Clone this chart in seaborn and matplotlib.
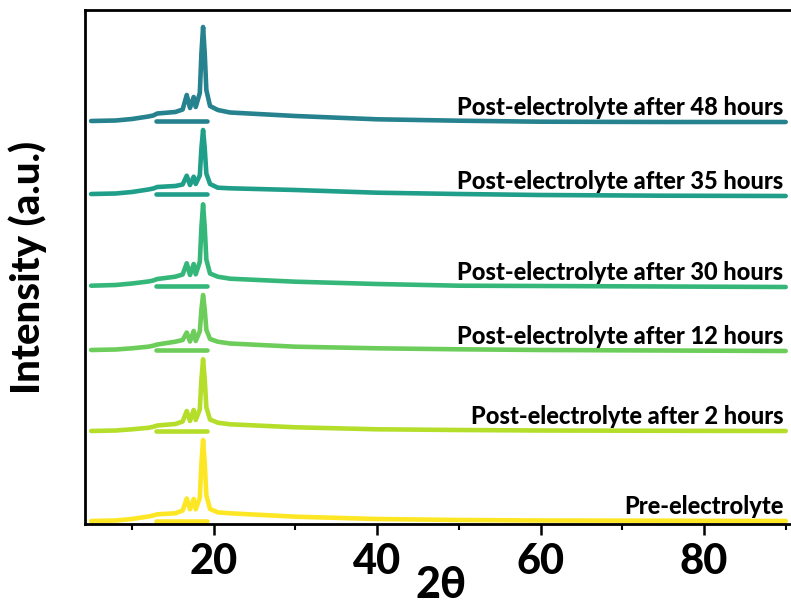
import matplotlib
matplotlib.use("Agg")
import matplotlib.pyplot as plt
import seaborn as sns
import pandas as pd
from matplotlib.ticker import MultipleLocator

# 2-theta grid shared by all patterns
two_theta = [5, 8, 10, 12, 12.6, 13.1, 15.3, 16.2, 16.7, 17.1, 17.55, 17.8, 18.3,
             18.5, 18.7, 18.9, 19.1, 19.55, 20.5, 22, 30, 40, 50, 60, 75, 90]

# intensities (a.u., already offset for stacking)
pre = [3, 3.5, 5, 7.5, 8.5, 9.7, 10.7, 13.5, 25.5, 14.7, 25, 14.7, 26.2,
       61.2, 84, 61.2, 28.7, 15, 11.7, 10.7, 7.3, 5, 4, 3.5, 3.3, 3]
h2 = [93, 93.5, 94.7, 96.2, 97.2, 98.5, 100, 102.5, 113, 103, 114, 104, 114.6,
      145, 164.7, 145, 116.7, 104.5, 101.3, 99.7, 96.7, 94.7, 94, 93.5, 93.2, 93]
h12 = [174, 174.5, 175.7, 177.3, 178.3, 179.5, 182.3, 184, 191.5, 182.5, 193, 183, 192.7,
       214.7, 229, 214.7, 194.2, 185, 182.3, 180.5, 177.3, 175.7, 174.7, 174, 173.5, 173]
h30 = [238.3, 239, 240.5, 242.5, 243.5, 245, 247.3, 249.5, 260.7, 249, 260, 249.7, 262,
       297, 319.7, 297, 264.4, 250.5, 247.3, 245.3, 242.3, 240, 238.3, 238, 237.5, 237]
h35 = [330, 330.5, 332, 334.5, 335.5, 337, 338, 339.5, 348.3, 339, 347.3, 340, 348.6,
       376, 394, 376, 350.5, 340, 336.3, 335.7, 334, 331.3, 330, 329, 328.3, 328]
h48 = [403, 403.5, 405, 407.5, 408.5, 410.5, 412, 414.5, 429, 416, 427, 417, 431,
       471, 497, 471, 434, 418, 414, 411.5, 408, 404.7, 403.3, 402.3, 402, 402]

labels = ["Pre-electrolyte", "Post-electrolyte after 2 hours",
          "Post-electrolyte after 12 hours", "Post-electrolyte after 30 hours",
          "Post-electrolyte after 35 hours", "Post-electrolyte after 48 hours"]
series = [pre, h2, h12, h30, h35, h48]
colors = ["#fde725", "#b5de2b", "#6ccd5a", "#35b779", "#1f9e89", "#26828e"]

# reference bar range (2-theta)
bar_start = [12.9] * 6
bar_end = [19.2] * 6

sns.set_style("ticks")
plt.rcParams["font.family"] = ["Lato", "DejaVu Sans"]
plt.rcParams["text.color"] = "black"
plt.rcParams["axes.labelcolor"] = "black"
plt.rcParams["axes.edgecolor"] = "black"
plt.rcParams["xtick.color"] = "black"
plt.rcParams["ytick.color"] = "black"
W = "black"

fig = plt.figure(figsize=(7.91, 6.09), dpi=100)
ax = fig.add_axes([85 / 791, 1 - 524 / 609, 706 / 791, 514 / 609])

for lab, ys, col, b0, b1 in zip(labels, series, colors, bar_start, bar_end):
    df = pd.DataFrame({"x": two_theta, "y": ys})
    sns.lineplot(data=df, x="x", y="y", ax=ax, color=col, linewidth=3.3,
                 estimator=None, sort=False, legend=False)
    bar = pd.DataFrame({"x": [b0, b1], "y": [ys[0], ys[0]]})
    sns.lineplot(data=bar, x="x", y="y", ax=ax, color=col, linewidth=3.3,
                 estimator=None, legend=False)
    ax.text(89.7, ys[-1] + 3, lab, ha="right", va="bottom", fontsize=17,
            fontweight=W, color="black")

ax.set_xlim(4.25, 90.65)
ax.set_ylim(0, 514)
ax.xaxis.set_major_locator(MultipleLocator(20))
ax.xaxis.set_minor_locator(MultipleLocator(10))
ax.set_yticks([])
ax.tick_params(axis="x", which="major", length=8, width=1.8, labelsize=30, pad=6,
               colors="black")
ax.tick_params(axis="x", which="minor", length=4, width=1.5, colors="black")
for lbl in ax.get_xticklabels():
    lbl.set_fontweight(W)
for s in ["left", "bottom", "top"]:
    ax.spines[s].set_linewidth(2)
    ax.spines[s].set_color("black")
ax.spines["right"].set_visible(False)
ax.set_xlabel("2θ", fontsize=31, fontweight=W, color="black")
ax.xaxis.set_label_coords(0.505, -0.08)
ax.xaxis.label.set_va("top")
ax.set_ylabel("Intensity (a.u.)", fontsize=29, fontweight=W, color="black")
ax.yaxis.set_label_coords(-0.054, 0.5)

fig.savefig("out.png", dpi=100)
